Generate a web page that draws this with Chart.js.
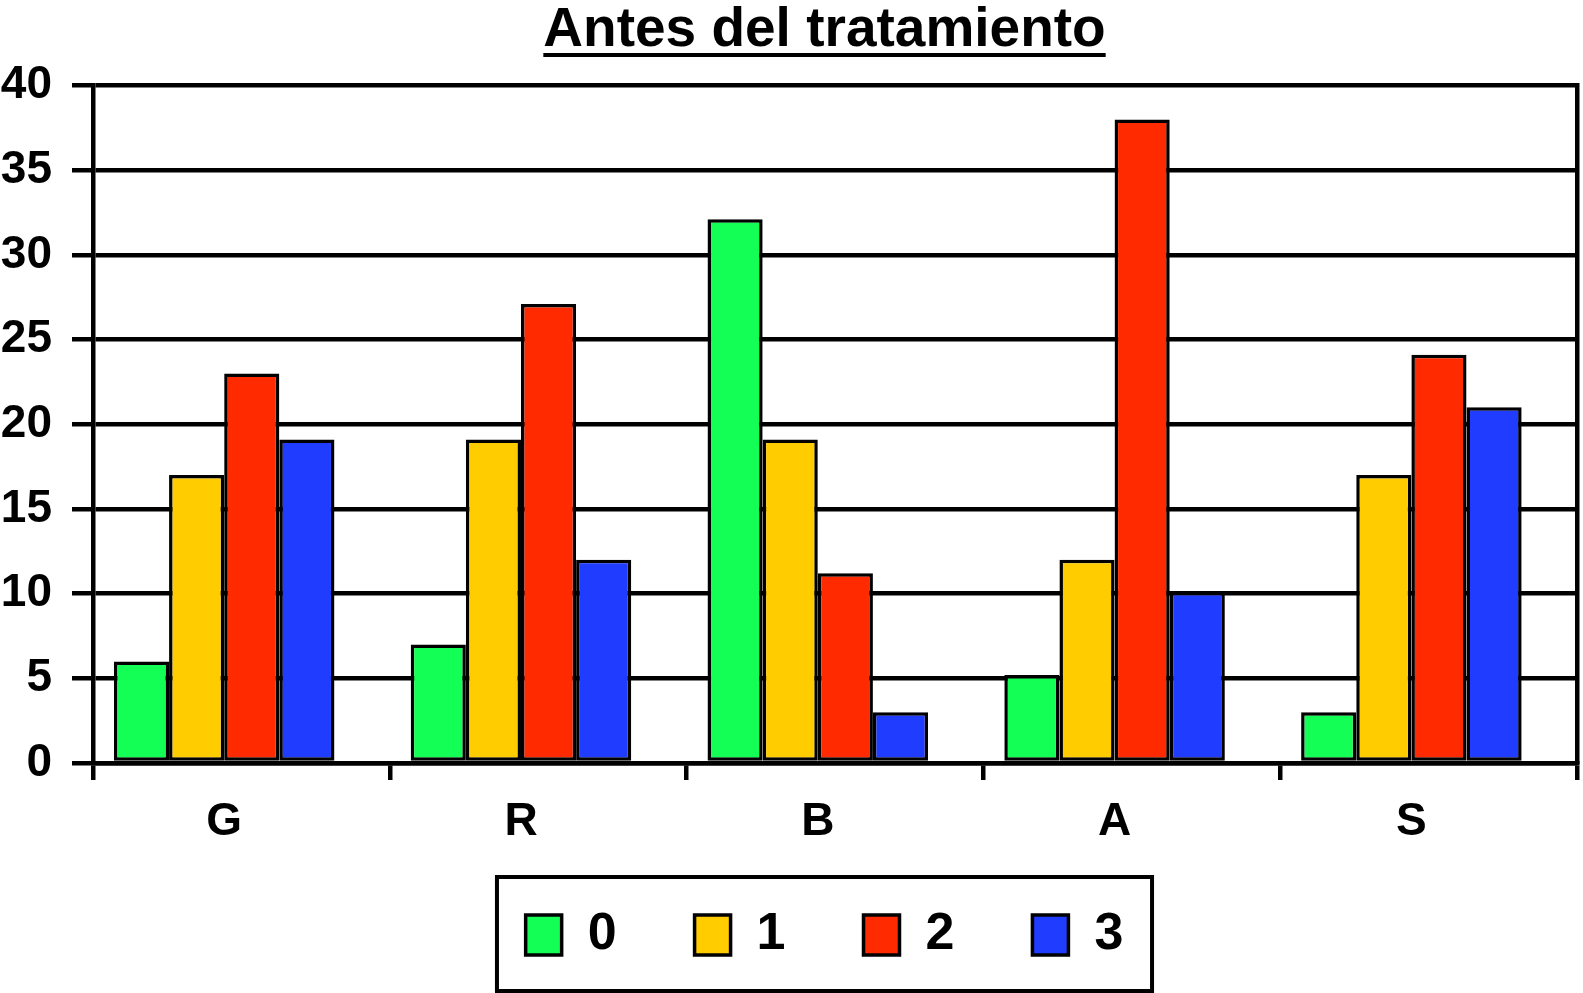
<!DOCTYPE html>
<html>
<head>
<meta charset="utf-8">
<title>Antes del tratamiento</title>
<script src="https://cdn.jsdelivr.net/npm/chart.js@4/dist/chart.umd.min.js"></script>
<style>
    html, body { margin: 0; padding: 0; background: #fff; overflow: hidden; width: 1583px; height: 993px; }
    canvas { display: block; }
</style>
</head>
<body>
<!-- canvas runs a little past the right edge so the title and legend centre where the original has them -->
<canvas id="chart" width="1649" height="993"></canvas>
<script>
// data
const categories = ["G", "R", "B", "A", "S"];

const seriesNames = ["0", "1", "2", "3"];

const grade0 = [6, 7, 32.1, 5.2, 3];
const grade1 = [17, 19.1, 19.1, 12, 17];
const grade2 = [23, 27.1, 11.2, 38, 24.1];
const grade3 = [19.1, 12, 3, 10.1, 21];

const seriesColors = ["#14ff55", "#ffcc00", "#ff2a00", "#1f3cff"];

const yMin = 0;
const yMax = 40;
const yStep = 5;

// groups sit a little left of the middle of each category, as in the original
const groupShift = 0.058;
const xMin = -0.5 + groupShift;
const xMax = categories.length - 0.5 + groupShift;

const font = "'Liberation Sans', Arial, Helvetica, sans-serif";
Chart.defaults.font.family = font;
Chart.defaults.font.weight = "bold";
Chart.defaults.color = "#000";

const values = [grade0, grade1, grade2, grade3];

const datasets =
    seriesNames.map((name, s) => ({
        label: name,
        data: values[s].map((v, i) => ({ x: i, y: v })),
        backgroundColor: seriesColors[s],
        borderColor: "#000",
        borderWidth: 3.5,
        borderSkipped: false,
        categoryPercentage: 0.743,
        barPercentage: 1
    }));

// underline under the title
const titleUnderline = {
    id: "titleUnderline",
    afterDraw(chart) {
        const t = chart.titleBlock;
        const ctx = chart.ctx;
        ctx.save();
        ctx.font = "bold 55px " + font;
        const w = ctx.measureText(t.options.text).width;
        const cx = (t.left + t.right) / 2;
        ctx.fillStyle = "#000";
        ctx.fillRect(cx - w / 2, t.top + 53, w, 4);
        ctx.restore();
    }
};

// frame around the legend
const legendFrame = {
    id: "legendFrame",
    afterDraw(chart) {
        const boxes = chart.legend.legendHitBoxes;
        if (!boxes || !boxes.length) return;
        const first = boxes[0];
        const last = boxes[boxes.length - 1];
        const ctx = chart.ctx;
        const left = first.left - 28.7;
        const right = last.left + last.width + 28.7;
        const top = first.top - 32;
        const bottom = first.top + first.height + 30;
        ctx.save();
        ctx.strokeStyle = "#000";
        ctx.lineWidth = 4;
        ctx.strokeRect(left, top, right - left, bottom - top);
        ctx.restore();
    }
};

const ctx = document.getElementById("chart");

const chart = new Chart(ctx, {
    type: "bar",
    data: { datasets },
    plugins: [titleUnderline, legendFrame],
    options: {
        responsive: false,
        animation: false,
        devicePixelRatio: 1,
        layout: {
            padding: { left: 0, right: 0, top: 0, bottom: 22 }
        },
        plugins: {
            title: {
                display: true,
                text: "Antes del tratamiento",
                color: "#000",
                font: { size: 55, weight: "bold", lineHeight: 1 },
                padding: { top: 3.5, bottom: 27 }
            },
            legend: {
                display: true,
                position: "bottom",
                labels: {
                    color: "#000",
                    font: { size: 52, weight: "bold" },
                    boxWidth: 36,
                    boxHeight: 40,
                    padding: 78
                }
            },
            tooltip: { enabled: false }
        },
        scales: {
            // tick marks between the categories
            xb: {
                type: "linear",
                position: "bottom",
                weight: 0,
                offset: false,
                min: xMin,
                max: xMax,
                bounds: "data",
                afterBuildTicks(scale) {
                    const ticks = [];
                    for (let k = 0; k <= categories.length; k++) {
                        ticks.push({ value: xMin + k });
                    }
                    scale.ticks = ticks;
                },
                grid: {
                    display: true,
                    offset: false,
                    drawOnChartArea: false,
                    drawTicks: true,
                    tickLength: 17,
                    color: "#000",
                    lineWidth: 4.5
                },
                border: { display: true, color: "#000", width: 4.5 },
                ticks: { display: false }
            },
            // category names under each group
            x: {
                type: "linear",
                position: "bottom",
                weight: 1,
                offset: false,
                min: xMin,
                max: xMax,
                bounds: "data",
                afterBuildTicks(scale) {
                    scale.ticks = categories.map((c, i) => ({ value: i }));
                },
                afterFit(scale) {
                    scale.height = 51;
                },
                grid: { display: false, offset: false, drawTicks: false },
                border: { display: false },
                ticks: {
                    color: "#000",
                    font: { size: 46, weight: "bold", lineHeight: "0px" },
                    padding: -42.5,
                    mirror: true,
                    maxRotation: 0,
                    autoSkip: false,
                    callback: (v) => categories[v]
                }
            },
            y: {
                type: "linear",
                position: "left",
                min: yMin,
                max: yMax,
                afterFit(scale) {
                    scale.width = 93;
                },
                ticks: {
                    stepSize: yStep,
                    color: "#000",
                    font: { size: 46, weight: "bold" },
                    padding: 20
                },
                grid: {
                    color: "#000",
                    lineWidth: 4.5,
                    tickLength: 21
                },
                border: { display: true, color: "#000", width: 4.5 }
            },
            yr: {
                type: "linear",
                position: "right",
                display: true,
                afterFit(scale) {
                    scale.width = 72;
                },
                grid: { display: false, drawTicks: false },
                ticks: { display: false },
                border: { display: true, color: "#000", width: 4.5 }
            }
        }
    }
});
</script>
</body>
</html>
